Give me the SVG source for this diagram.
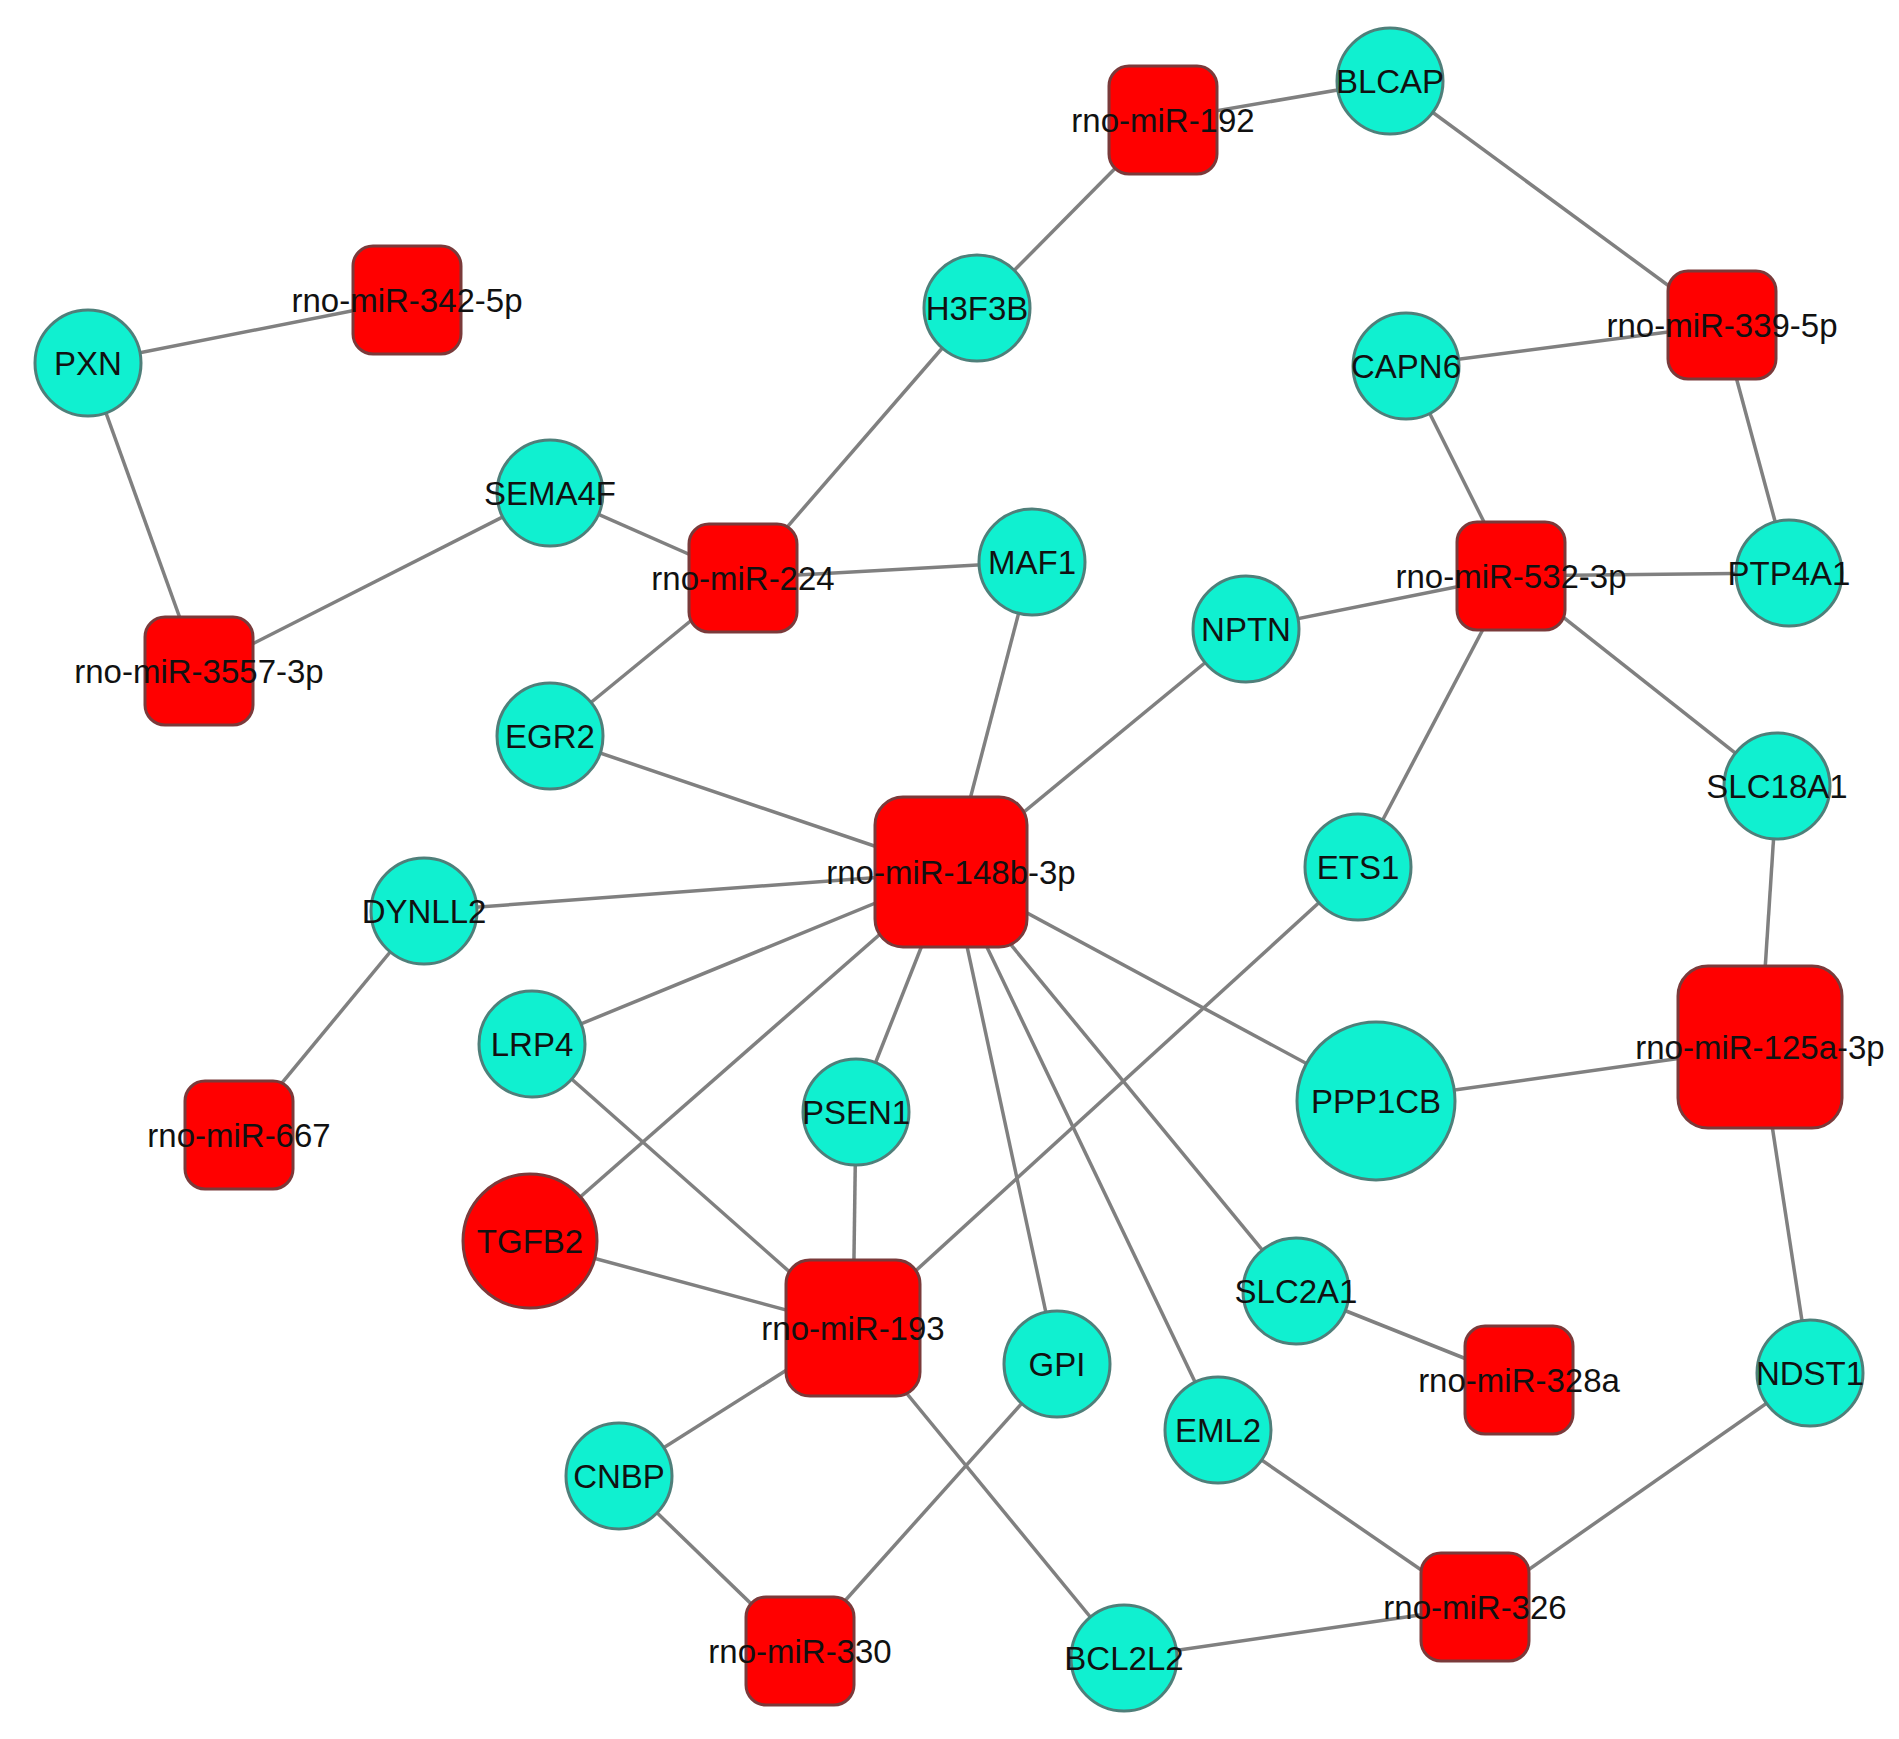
<svg xmlns="http://www.w3.org/2000/svg" width="1899" height="1739" viewBox="0 0 1899 1739">
<style>
.e{stroke:#808080;stroke-width:3.5;fill:none}
.g{fill:#10F0D0;stroke:#4f7f7a;stroke-width:3}
.m{fill:#FF0000;stroke:#7a3a3a;stroke-width:3}
.t{font-family:"Liberation Sans",Arial,sans-serif;font-size:33px;fill:#111;text-anchor:middle}
</style>
<rect width="1899" height="1739" fill="#ffffff"/>
<g id="edges">
<line class="e" x1="1163" y1="120" x2="1390" y2="81"/>
<line class="e" x1="1163" y1="120" x2="977" y2="308"/>
<line class="e" x1="1390" y1="81" x2="1722" y2="325"/>
<line class="e" x1="1722" y1="325" x2="1406" y2="366"/>
<line class="e" x1="1722" y1="325" x2="1789" y2="573"/>
<line class="e" x1="407" y1="300" x2="88" y2="363"/>
<line class="e" x1="88" y1="363" x2="199" y2="671"/>
<line class="e" x1="199" y1="671" x2="550" y2="493"/>
<line class="e" x1="550" y1="493" x2="743" y2="578"/>
<line class="e" x1="743" y1="578" x2="977" y2="308"/>
<line class="e" x1="743" y1="578" x2="1032" y2="562"/>
<line class="e" x1="743" y1="578" x2="550" y2="736"/>
<line class="e" x1="1406" y1="366" x2="1511" y2="576"/>
<line class="e" x1="1511" y1="576" x2="1789" y2="573"/>
<line class="e" x1="1511" y1="576" x2="1246" y2="629"/>
<line class="e" x1="1511" y1="576" x2="1358" y2="867"/>
<line class="e" x1="1511" y1="576" x2="1777" y2="786"/>
<line class="e" x1="1777" y1="786" x2="1760" y2="1047"/>
<line class="e" x1="1760" y1="1047" x2="1376" y2="1101"/>
<line class="e" x1="1760" y1="1047" x2="1810" y2="1373"/>
<line class="e" x1="951" y1="872" x2="1032" y2="562"/>
<line class="e" x1="951" y1="872" x2="1246" y2="629"/>
<line class="e" x1="951" y1="872" x2="550" y2="736"/>
<line class="e" x1="951" y1="872" x2="424" y2="911"/>
<line class="e" x1="951" y1="872" x2="532" y2="1044"/>
<line class="e" x1="951" y1="872" x2="530" y2="1241"/>
<line class="e" x1="951" y1="872" x2="856" y2="1112"/>
<line class="e" x1="951" y1="872" x2="1057" y2="1364"/>
<line class="e" x1="951" y1="872" x2="1218" y2="1430"/>
<line class="e" x1="951" y1="872" x2="1296" y2="1291"/>
<line class="e" x1="951" y1="872" x2="1376" y2="1101"/>
<line class="e" x1="853" y1="1328" x2="1124" y2="1658"/>
<line class="e" x1="853" y1="1328" x2="1358" y2="867"/>
<line class="e" x1="853" y1="1328" x2="532" y2="1044"/>
<line class="e" x1="853" y1="1328" x2="530" y2="1241"/>
<line class="e" x1="853" y1="1328" x2="856" y2="1112"/>
<line class="e" x1="853" y1="1328" x2="619" y2="1476"/>
<line class="e" x1="619" y1="1476" x2="800" y2="1651"/>
<line class="e" x1="800" y1="1651" x2="1057" y2="1364"/>
<line class="e" x1="1296" y1="1291" x2="1519" y2="1380"/>
<line class="e" x1="1218" y1="1430" x2="1475" y2="1607"/>
<line class="e" x1="1475" y1="1607" x2="1124" y2="1658"/>
<line class="e" x1="1475" y1="1607" x2="1810" y2="1373"/>
<line class="e" x1="424" y1="911" x2="239" y2="1135"/>
</g>
<g id="BLCAP"><circle class="g" cx="1390" cy="81" r="53"/><text class="t" x="1390" y="93">BLCAP</text></g>
<g id="PXN"><circle class="g" cx="88" cy="363" r="53"/><text class="t" x="88" y="375">PXN</text></g>
<g id="H3F3B"><circle class="g" cx="977" cy="308" r="53"/><text class="t" x="977" y="320">H3F3B</text></g>
<g id="CAPN6"><circle class="g" cx="1406" cy="366" r="53"/><text class="t" x="1406" y="378">CAPN6</text></g>
<g id="SEMA4F"><circle class="g" cx="550" cy="493" r="53"/><text class="t" x="550" y="505">SEMA4F</text></g>
<g id="MAF1"><circle class="g" cx="1032" cy="562" r="53"/><text class="t" x="1032" y="574">MAF1</text></g>
<g id="PTP4A1"><circle class="g" cx="1789" cy="573" r="53"/><text class="t" x="1789" y="585">PTP4A1</text></g>
<g id="NPTN"><circle class="g" cx="1246" cy="629" r="53"/><text class="t" x="1246" y="641">NPTN</text></g>
<g id="EGR2"><circle class="g" cx="550" cy="736" r="53"/><text class="t" x="550" y="748">EGR2</text></g>
<g id="SLC18A1"><circle class="g" cx="1777" cy="786" r="53"/><text class="t" x="1777" y="798">SLC18A1</text></g>
<g id="ETS1"><circle class="g" cx="1358" cy="867" r="53"/><text class="t" x="1358" y="879">ETS1</text></g>
<g id="DYNLL2"><circle class="g" cx="424" cy="911" r="53"/><text class="t" x="424" y="923">DYNLL2</text></g>
<g id="LRP4"><circle class="g" cx="532" cy="1044" r="53"/><text class="t" x="532" y="1056">LRP4</text></g>
<g id="PSEN1"><circle class="g" cx="856" cy="1112" r="53"/><text class="t" x="856" y="1124">PSEN1</text></g>
<g id="PPP1CB"><circle class="g" cx="1376" cy="1101" r="79"/><text class="t" x="1376" y="1113">PPP1CB</text></g>
<g id="SLC2A1"><circle class="g" cx="1296" cy="1291" r="53"/><text class="t" x="1296" y="1303">SLC2A1</text></g>
<g id="GPI"><circle class="g" cx="1057" cy="1364" r="53"/><text class="t" x="1057" y="1376">GPI</text></g>
<g id="EML2"><circle class="g" cx="1218" cy="1430" r="53"/><text class="t" x="1218" y="1442">EML2</text></g>
<g id="NDST1"><circle class="g" cx="1810" cy="1373" r="53"/><text class="t" x="1810" y="1385">NDST1</text></g>
<g id="CNBP"><circle class="g" cx="619" cy="1476" r="53"/><text class="t" x="619" y="1488">CNBP</text></g>
<g id="BCL2L2"><circle class="g" cx="1124" cy="1658" r="53"/><text class="t" x="1124" y="1670">BCL2L2</text></g>
<g id="TGFB2"><circle class="m" cx="530" cy="1241" r="67"/><text class="t" x="530" y="1253">TGFB2</text></g>
<g id="rno-miR-192"><rect class="m" x="1109" y="66" width="108" height="108" rx="20"/><text class="t" x="1163" y="132">rno-miR-192</text></g>
<g id="rno-miR-342-5p"><rect class="m" x="353" y="246" width="108" height="108" rx="20"/><text class="t" x="407" y="312">rno-miR-342-5p</text></g>
<g id="rno-miR-339-5p"><rect class="m" x="1668" y="271" width="108" height="108" rx="20"/><text class="t" x="1722" y="337">rno-miR-339-5p</text></g>
<g id="rno-miR-224"><rect class="m" x="689" y="524" width="108" height="108" rx="20"/><text class="t" x="743" y="590">rno-miR-224</text></g>
<g id="rno-miR-532-3p"><rect class="m" x="1457" y="522" width="108" height="108" rx="20"/><text class="t" x="1511" y="588">rno-miR-532-3p</text></g>
<g id="rno-miR-3557-3p"><rect class="m" x="145" y="617" width="108" height="108" rx="20"/><text class="t" x="199" y="683">rno-miR-3557-3p</text></g>
<g id="rno-miR-148b-3p"><rect class="m" x="875" y="797" width="152" height="150" rx="28"/><text class="t" x="951" y="884">rno-miR-148b-3p</text></g>
<g id="rno-miR-667"><rect class="m" x="185" y="1081" width="108" height="108" rx="20"/><text class="t" x="239" y="1147">rno-miR-667</text></g>
<g id="rno-miR-125a-3p"><rect class="m" x="1678" y="966" width="164" height="162" rx="30"/><text class="t" x="1760" y="1059">rno-miR-125a-3p</text></g>
<g id="rno-miR-193"><rect class="m" x="786" y="1260" width="134" height="136" rx="24"/><text class="t" x="853" y="1340">rno-miR-193</text></g>
<g id="rno-miR-328a"><rect class="m" x="1465" y="1326" width="108" height="108" rx="20"/><text class="t" x="1519" y="1392">rno-miR-328a</text></g>
<g id="rno-miR-326"><rect class="m" x="1421" y="1553" width="108" height="108" rx="20"/><text class="t" x="1475" y="1619">rno-miR-326</text></g>
<g id="rno-miR-330"><rect class="m" x="746" y="1597" width="108" height="108" rx="20"/><text class="t" x="800" y="1663">rno-miR-330</text></g>
</svg>
